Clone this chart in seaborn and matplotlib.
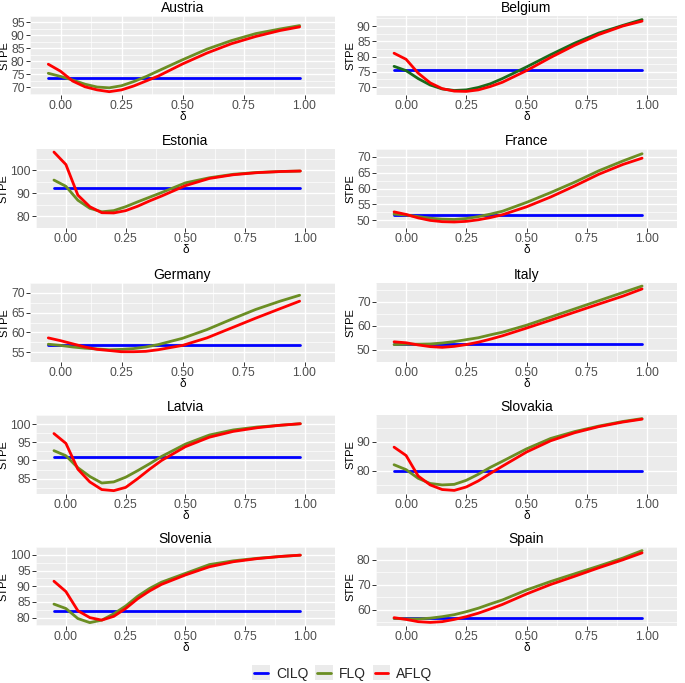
import numpy as np
import pandas as pd
import seaborn as sns
from matplotlib import pyplot as plt
from matplotlib.lines import Line2D
from matplotlib.patches import Rectangle

sns.set_theme(style='darkgrid')
plt.rcParams['font.family'] = ['Liberation Sans', 'DejaVu Sans']

delta = [-0.05, 0.0, 0.05, 0.1, 0.15, 0.2, 0.25, 0.3, 0.35, 0.4, 0.5, 0.6, 0.7, 0.8, 0.9, 0.98]

countries = ['Austria', 'Belgium', 'Estonia', 'France', 'Germany',
             'Italy', 'Latvia', 'Slovakia', 'Slovenia', 'Spain']

cilq = {'Austria': 73.4, 'Belgium': 75.5, 'Estonia': 92.2, 'France': 51.7, 'Germany': 56.7,
        'Italy': 52.6, 'Latvia': 91.0, 'Slovakia': 80.0, 'Slovenia': 82.1, 'Spain': 56.6}

flq = {
    'Austria':  [75.4, 74.2, 72.8, 71.2, 70.1, 69.8, 70.6, 72.2, 74.1, 76.3, 80.6, 84.7, 88.0, 90.7, 92.5, 93.8],
    'Belgium':  [76.8, 75.4, 72.8, 70.7, 69.4, 68.9, 69.1, 69.9, 71.1, 72.8, 76.6, 80.6, 84.4, 87.7, 90.2, 92.1],
    'Estonia':  [95.7, 93.0, 87.0, 83.5, 82.0, 82.5, 84.2, 86.3, 88.3, 90.3, 94.5, 96.7, 98.2, 99.0, 99.4, 99.6],
    'France':   [51.9, 51.6, 51.1, 50.6, 50.3, 50.2, 50.5, 51.1, 51.9, 52.8, 55.6, 58.7, 62.0, 65.6, 68.7, 71.0],
    'Germany':  [57.0, 56.7, 56.3, 56.0, 55.8, 55.6, 55.7, 55.9, 56.3, 56.9, 58.5, 60.7, 63.3, 65.8, 67.9, 69.4],
    'Italy':    [52.25, 52.4, 52.4, 52.5, 52.9, 53.5, 54.3, 55.1, 56.3, 57.4, 60.3, 63.7, 67.1, 70.5, 73.9, 76.6],
    'Latvia':   [92.7, 91.3, 88.0, 85.6, 83.8, 84.1, 85.4, 87.2, 89.1, 91.1, 94.5, 97.0, 98.4, 99.2, 99.7, 100.1],
    'Slovakia': [82.1, 80.4, 77.4, 75.6, 75.1, 75.3, 76.7, 78.8, 81.2, 83.3, 87.6, 91.2, 93.6, 95.5, 97.1, 98.1],
    'Slovenia': [84.3, 82.9, 79.7, 78.4, 79.2, 81.2, 83.7, 86.8, 89.3, 91.3, 94.1, 96.9, 98.1, 98.9, 99.5, 99.9],
    'Spain':    [56.5, 56.3, 56.3, 56.6, 57.2, 58.0, 59.2, 60.6, 62.3, 63.9, 67.9, 71.3, 74.4, 77.5, 80.7, 83.7],
}

aflq = {
    'Austria':  [78.9, 76.2, 72.4, 70.2, 69.0, 68.3, 69.0, 70.5, 72.4, 74.3, 79.0, 83.2, 86.8, 89.6, 91.9, 93.3],
    'Belgium':  [81.1, 79.1, 74.6, 71.4, 69.5, 68.7, 68.6, 69.1, 70.2, 71.6, 75.4, 79.7, 83.7, 87.2, 90.0, 91.6],
    'Estonia':  [107.8, 102.4, 89.2, 84.2, 81.6, 81.5, 82.5, 84.4, 86.7, 88.8, 93.3, 96.4, 98.0, 98.9, 99.4, 99.6],
    'France':   [52.6, 51.8, 50.7, 49.9, 49.5, 49.4, 49.6, 50.1, 50.8, 51.7, 54.2, 57.3, 60.8, 64.5, 67.6, 69.6],
    'Germany':  [58.6, 57.9, 57.1, 56.3, 55.7, 55.4, 55.1, 55.1, 55.2, 55.6, 56.7, 58.6, 61.1, 63.6, 66.0, 67.9],
    'Italy':    [53.4, 53.0, 52.1, 51.4, 51.1, 51.5, 52.25, 53.25, 54.5, 55.9, 59.1, 62.4, 65.75, 69.1, 72.4, 75.4],
    'Latvia':   [97.4, 94.7, 87.6, 84.1, 82.0, 81.7, 82.6, 85.0, 87.6, 90.0, 93.8, 96.4, 98.0, 99.0, 99.7, 100.1],
    'Slovakia': [88.2, 85.3, 78.2, 75.1, 73.5, 73.2, 74.4, 76.5, 79.1, 81.6, 86.5, 90.4, 93.2, 95.3, 96.9, 97.9],
    'Slovenia': [91.6, 88.3, 82.2, 80.0, 79.2, 80.4, 82.9, 86.0, 88.5, 90.6, 93.6, 96.2, 97.8, 98.8, 99.5, 99.9],
    'Spain':    [56.8, 56.1, 55.2, 54.9, 55.2, 56.1, 57.2, 58.6, 60.3, 62.1, 66.3, 70.1, 73.4, 76.8, 80.0, 82.8],
}

yticks = {'Austria': [70, 75, 80, 85, 90, 95], 'Belgium': [70, 75, 80, 85, 90],
          'Estonia': [80, 90, 100], 'France': [50, 55, 60, 65, 70], 'Germany': [55, 60, 65, 70],
          'Italy': [50, 60, 70], 'Latvia': [85, 90, 95, 100], 'Slovakia': [80, 90],
          'Slovenia': [80, 85, 90, 95, 100], 'Spain': [60, 70, 80]}

xticks = [0.0, 0.25, 0.5, 0.75, 1.0]
methods = ['CILQ', 'FLQ', 'AFLQ']
colors = {'CILQ': '#0000FF', 'FLQ': '#6B8E23', 'AFLQ': '#FF0000'}


class KeyHandler:
    # ggplot style legend key: grey square with a short line on it
    def legend_artist(self, legend, orig_handle, fontsize, handlebox):
        x0, y0 = -handlebox.xdescent, -handlebox.ydescent
        w, h = handlebox.width, handlebox.height
        tr = handlebox.get_transform()
        rect = Rectangle((x0, y0), w, h, facecolor='#EBEBEB', edgecolor='none', transform=tr)
        line = Line2D([x0 + 0.12 * w, x0 + 0.88 * w], [y0 + h / 2, y0 + h / 2],
                      color=orig_handle.get_color(), linewidth=2.0, transform=tr)
        handlebox.add_artist(rect)
        handlebox.add_artist(line)
        return rect


W, H = 685, 683
fig = plt.figure(figsize=(W / 100, H / 100), dpi=100)

# each panel is its own plot, so the left edge depends on the width of its y labels
tops = [16, 149, 283, 415, 547]
panel_h = 79

for i, c in enumerate(countries):
    row, col = divmod(i, 2)
    if col == 0:
        left = 36 if max(yticks[c]) >= 100 else 30
        right = 335
    else:
        left, right = 376, 677
    ax = fig.add_axes([left / W, 1 - (tops[row] + panel_h) / H, (right - left) / W, panel_h / H])
    df = pd.DataFrame({
        'delta': delta * 3,
        'STPE': [cilq[c]] * len(delta) + flq[c] + aflq[c],
        'method': ['CILQ'] * len(delta) + ['FLQ'] * len(delta) + ['AFLQ'] * len(delta),
    })
    pal = dict(colors)
    if c == 'Belgium':
        pal['FLQ'] = '#1A6B1A'
    sns.lineplot(data=df, x='delta', y='STPE', hue='method', hue_order=methods,
                 palette=pal, linewidth=2.0, ax=ax, legend=False, sort=False)
    ax.set_facecolor('#EBEBEB')
    for s in ax.spines.values():
        s.set_visible(False)
    ax.margins(x=0.05, y=0.05)
    ax.autoscale_view()
    ax.set_xticks(xticks)
    ax.set_xticklabels(['0.00', '0.25', '0.50', '0.75', '1.00'])
    yt = yticks[c]
    ax.set_yticks(yt)
    step = yt[1] - yt[0]
    ax.set_yticks([yt[0] - step / 2] + [v + step / 2 for v in yt], minor=True)
    ax.set_xticks([-0.125, 0.125, 0.375, 0.625, 0.875, 1.125], minor=True)
    ax.grid(which='major', color='white', linewidth=1.0)
    ax.grid(which='minor', color='white', linewidth=0.5)
    ax.tick_params(which='major', length=2.7, width=0.7, color='#333333', labelsize=8.8,
                   labelcolor='#4D4D4D', pad=1.2, bottom=True, left=True)
    ax.tick_params(which='minor', length=0)
    ax.set_xlabel('δ', fontsize=8.5, labelpad=-1, color='black')
    ax.set_ylabel('STPE', fontsize=8, labelpad=1, color='black')
    ax.set_title(c, fontsize=10, pad=3, color='black')

handles = [Line2D([0], [0], color=colors[m], linewidth=2.0) for m in methods]
fig.legend(handles, methods, loc='center', bbox_to_anchor=(0.5, 1 - 673 / H), ncol=3,
           frameon=False, fontsize=10, handlelength=1.25, handleheight=1.25,
           columnspacing=0.5, handletextpad=0.45,
           handler_map={Line2D: KeyHandler()})

fig.savefig('out.png', dpi=100)
